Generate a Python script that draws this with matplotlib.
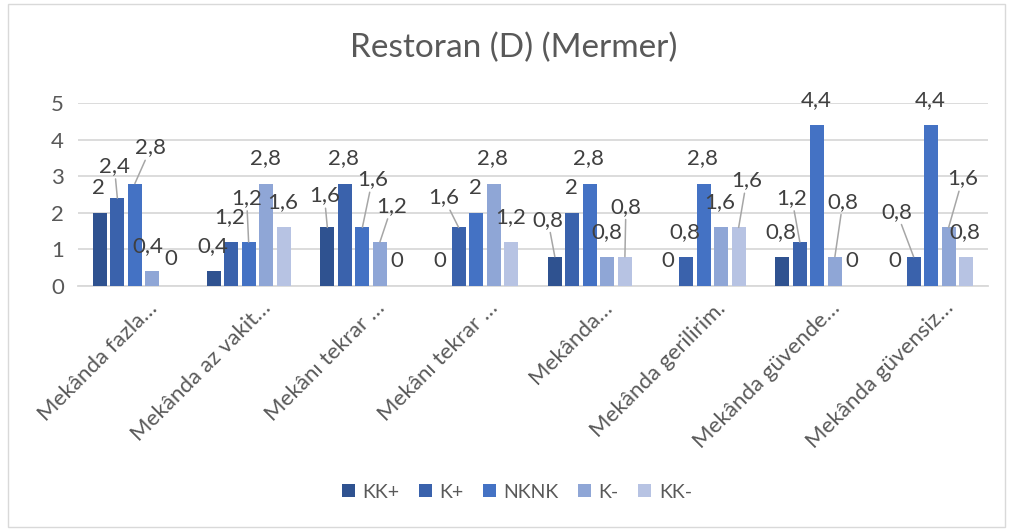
import matplotlib
matplotlib.use("Agg")
import matplotlib.pyplot as plt
from matplotlib.patches import Rectangle
import matplotlib.transforms as mtransforms
import numpy as np

categories = ["Mekânda fazla…", "Mekânda az vakit…", "Mekânı tekrar …", "Mekânı tekrar …",
              "Mekânda…", "Mekânda gerilirim.", "Mekânda güvende…", "Mekânda güvensiz…"]
series_names = ["KK+", "K+", "NKNK", "K-", "KK-"]
kk_plus = [2, 0.4, 1.6, 0, 0.8, 0, 0.8, 0]
k_plus = [2.4, 1.2, 2.8, 1.6, 2, 0.8, 1.2, 0.8]
nknk = [2.8, 1.2, 1.6, 2, 2.8, 2.8, 4.4, 4.4]
k_minus = [0.4, 2.8, 1.2, 2.8, 0.8, 1.6, 0.8, 1.6]
kk_minus = [0, 1.6, 0, 1.2, 0.8, 1.6, 0, 0.8]
series_values = [kk_plus, k_plus, nknk, k_minus, kk_minus]
colors = ["#2F5290", "#3A62AC", "#4472C4", "#8FA6D6", "#B7C3E3"]

# label placement (pixels: dx, dy above bar top, leader line) - style only
default_off = (-1, 25, False)
label_off = {
    (1, 0): (-3, 32, True), (2, 0): (16, 36, True), (3, 0): (-5, 25, False), (4, 0): (1, 27, False),
    (2, 1): (-2, 44, True),
    (0, 2): (-3, 32, True), (2, 2): (10, 48, True), (3, 2): (12, 36, True),
    (1, 3): (-15, 30, True),
    (0, 4): (-7, 37, True), (4, 4): (1, 50, True),
    (4, 5): (8, 47, True),
    (1, 6): (-8, 44, True), (3, 6): (8, 55, True),
    (1, 7): (-17, 45, True), (3, 7): (14, 49, True),
}

FONT = "Lato"
plt.rcParams["font.family"] = [FONT, "DejaVu Sans"]

fig = plt.figure(figsize=(10.13, 5.31), dpi=100)
ax = fig.add_axes([78 / 1013, 1 - 286 / 531, (988 - 78) / 1013, (286 - 103) / 531])

x = np.arange(len(categories))
slot = 0.154
bw = 0.123
px2pt = 72 / 100
for j, (name, vals, c) in enumerate(zip(series_names, series_values, colors)):
    xs = x + (j - 2) * slot
    ax.bar(xs, vals, width=bw, color=c, label=name, zorder=3)
    for i, (xi, v) in enumerate(zip(xs, vals)):
        dx, dy, leader = label_off.get((j, i), default_off)
        txt = f"{v:g}".replace(".", ",")
        kw = {}
        if leader:
            kw["arrowprops"] = dict(arrowstyle="-", color="#A6A6A6", lw=1.1,
                                    shrinkA=0, shrinkB=0)
        ax.annotate(txt, xy=(xi, v), xytext=(dx * px2pt, dy * px2pt),
                    textcoords="offset points", ha="center", va="center",
                    fontsize=16, color="#404040", annotation_clip=False, zorder=5, **kw)

ax.set_xlim(-0.5, len(categories) - 0.5)
ax.set_ylim(0, 5)
ax.set_yticks(range(0, 6))
ax.grid(axis="y", color="#D9D9D9", lw=1.3, zorder=0)
ax.set_axisbelow(True)
for s in ["top", "right", "left"]:
    ax.spines[s].set_visible(False)
ax.spines["bottom"].set_color("#D9D9D9")
ax.spines["bottom"].set_linewidth(1.3)
ax.tick_params(axis="both", length=0, colors="#595959", labelsize=16)
ax.tick_params(axis="y", pad=10)
ax.set_xticks(x)
ax.set_xticklabels(categories, rotation=45, ha="right", rotation_mode="anchor")
off = mtransforms.ScaledTranslation(12 / 100, -7 / 100, fig.dpi_scale_trans)
for lab in ax.get_xticklabels():
    lab.set_fontsize(16)
    lab.set_transform(lab.get_transform() + off)

fig.text(514 / 1013, 1 - 48 / 531, "Restoran (D) (Mermer)", ha="center", va="center",
         fontsize=24, color="#595959")

leg = fig.legend(loc="center", bbox_to_anchor=(517 / 1013, 1 - 492 / 531), ncol=5,
                 frameon=False, fontsize=14, handlelength=0.65, handleheight=0.65,
                 handletextpad=0.4, columnspacing=1.0, labelcolor="#595959")

fig.patches.append(Rectangle((8 / 1013, 4 / 531), (1005 - 8) / 1013, (527 - 4) / 531,
                             transform=fig.transFigure, fill=False, edgecolor="#D9D9D9", lw=1))

fig.savefig("out.png", dpi=100)
